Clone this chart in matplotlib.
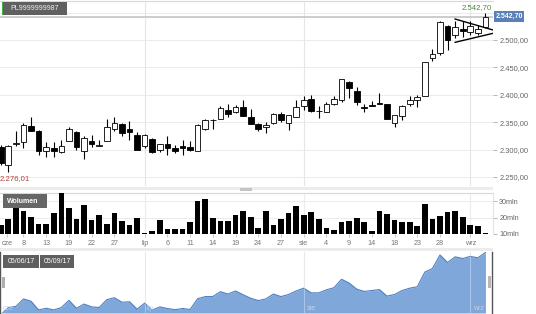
import matplotlib
matplotlib.use('Agg')
import numpy as np
import matplotlib.pyplot as plt
from matplotlib.patches import Rectangle

plt.rcParams['font.family'] = ['Liberation Sans', 'DejaVu Sans']

W, H = 536, 314

# daily OHLC (05/06/17 - 05/09/17)
opens = [2305, 2272, 2311, 2313, 2343, 2334, 2298, 2303, 2295, 2316,
         2332, 2298, 2316, 2307, 2316, 2337, 2347, 2338, 2327, 2307,
         2320, 2300, 2311, 2302, 2307, 2305, 2298, 2337, 2354.5, 2356,
         2372, 2368, 2378, 2360, 2347, 2341, 2348, 2365, 2348, 2360,
         2380, 2392, 2370.5, 2369, 2384, 2390, 2424, 2407, 2377, 2380.5,
         2384.5, 2383, 2349, 2362, 2383, 2390, 2398, 2467, 2476, 2526,
         2509, 2520, 2514, 2513, 2523]
highs = [2308, 2309, 2333, 2348, 2359, 2336, 2313, 2313, 2317, 2342,
         2334, 2324, 2327, 2317, 2355, 2359, 2349, 2353, 2332, 2328,
         2322, 2311, 2325, 2308, 2317, 2316, 2346, 2355, 2355, 2380,
         2384, 2381, 2390, 2374, 2348, 2351, 2367, 2369, 2364, 2390,
         2397, 2400, 2380, 2387, 2398, 2429, 2426, 2415, 2383, 2389,
         2404, 2384, 2364, 2381, 2397, 2400, 2460, 2483, 2534, 2527,
         2535, 2535, 2535, 2527, 2549]
lows = [2272, 2259, 2306, 2303, 2333, 2290, 2286, 2287, 2294, 2315,
        2299, 2282, 2305, 2306, 2315, 2333, 2325, 2317, 2299, 2302,
        2294, 2296, 2290, 2294, 2291, 2297, 2297, 2336, 2337, 2355,
        2360, 2367, 2361, 2346, 2333, 2331, 2347, 2351, 2336, 2359,
        2372, 2369, 2357, 2368, 2381, 2387, 2394, 2381, 2369, 2379,
        2383, 2355, 2342, 2354, 2380, 2378, 2397, 2462, 2473, 2482,
        2503, 2506, 2509, 2510, 2522]
closes = [2276.01, 2307, 2312, 2344, 2334, 2297, 2304, 2297, 2307, 2338,
          2304, 2322, 2310, 2307.5, 2341, 2349, 2330, 2332, 2300, 2326,
          2296, 2310, 2303, 2298, 2303, 2299, 2345, 2354, 2354, 2375,
          2365, 2378, 2362, 2347, 2337, 2344, 2365, 2354, 2363, 2378,
          2390, 2370, 2370, 2383, 2392, 2428, 2412, 2386, 2376, 2380,
          2384, 2356, 2363, 2380, 2390, 2396, 2459, 2474, 2532, 2500,
          2524, 2517, 2526, 2520, 2542.70]
# volume in mln
volume = [15.5, 19.2, 26.8, 23.8, 20.2, 15.8, 16.2, 22.7, 34.9, 26.0,
          19.3, 27.7, 18.7, 21.3, 16.2, 22.7, 18.2, 15.2, 19.6, 10.8,
          12.0, 18.7, 13.0, 13.0, 13.0, 17.4, 30.3, 31.3, 19.8, 18.0,
          18.0, 21.7, 24.3, 20.1, 13.6, 24.3, 15.6, 19.3, 22.7, 27.0,
          21.7, 23.3, 19.3, 13.8, 12.6, 17.6, 18.2, 19.8, 17.2, 11.9,
          24.1, 21.9, 18.7, 17.6, 17.6, 14.6, 28.4, 19.3, 21.1, 23.7,
          23.9, 20.2, 15.6, 14.6, 10.4]

tick_pos = [0.8, 3, 6, 9, 12, 15, 19, 22, 25, 28, 31, 34, 37, 40, 43, 46, 49, 52, 55, 58, 62]
tick_lab = ['cze', '8', '13', '19', '22', '27', 'lip', '6', '11', '14', '19', '24', '27',
            'sie', '4', '9', '14', '18', '23', '28', 'wrz']
month_pos = [19, 40, 62]
nav_lab_pos = [0.3, 19.3, 40.4, 62.3]
nav_lab = ['cze', 'lip', 'sie', 'wrz']

# triangle drawn over the last candles
tri_x = [60.0, 65.0]
tri_upper = [2538.3, 2518.3]
tri_lower = [2495.8, 2512.2]

# 2550 sits behind the last-price box, so its label is left out
price_ticks = [2250, 2300, 2350, 2400, 2450, 2500, 2550]
vol_ticks = [10, 20, 30]


def fmt_pl(v):
    s = '{:,.2f}'.format(v)
    return s.replace(',', ' ').replace('.', ',').replace(' ', '.')


def box(x0, y0, x1, y1):
    return [x0 / W, 1 - y1 / H, (x1 - x0) / W, (y1 - y0) / H]


def rect(x0, y0, x1, y1, fc):
    fig.add_artist(Rectangle((x0 / W, 1 - y1 / H), (x1 - x0) / W, (y1 - y0) / H,
                             transform=fig.transFigure, fc=fc, ec='none'))


fig = plt.figure(figsize=(W / 100, H / 100), dpi=100)
idx = np.arange(len(closes))
o = np.array(opens)
c = np.array(closes)
XL = (-0.1, 65.0)

###############################################################################
# candles
ax = fig.add_axes(box(0, 1, 493, 186))
ax.set_xlim(*XL)
ax.set_ylim(2233.5, 2571.2)
for m in month_pos:
    ax.axvline(m, color='#e6e6e6', lw=0.8, zorder=0)
ax.set_yticks(price_ticks)
ax.set_yticklabels([fmt_pl(t) if t < 2550 else '' for t in price_ticks])
ax.yaxis.tick_right()
ax.tick_params(axis='y', length=3, width=0.6, color='#aaaaaa', pad=1.5,
               labelsize=5.4, labelcolor='#666666')
ax.set_xticks([])
ax.grid(axis='y', color='#e8e8e8', lw=0.6)
ax.set_axisbelow(True)
for s in ['left', 'bottom', 'right']:
    ax.spines[s].set_visible(False)
ax.spines['top'].set_color('#d8d8d8')

ax.axhline(closes[-1], color='#c8c8c8', lw=1.3, zorder=2)

body_bot = np.minimum(o, c)
body_h = np.maximum(np.abs(c - o), 0.6)
faces = ['white' if cc >= oo else 'black' for oo, cc in zip(o, c)]
ax.vlines(idx, lows, highs, color='black', lw=0.8, zorder=3)
ax.bar(idx, body_h, bottom=body_bot, width=0.75, color=faces,
       edgecolor='black', lw=0.6, zorder=4)

ax.plot(tri_x, tri_upper, color='black', lw=1.0, zorder=5)
ax.plot(tri_x, tri_lower, color='black', lw=1.0, zorder=5)

ax.text(64.87, 2558.4, fmt_pl(max(closes)), ha='right', va='center',
        fontsize=5.6, color='#4a8c3c')
ax.text(-0.1, 2248, fmt_pl(closes[0]), ha='left', va='center',
        fontsize=5.6, color='#b0413e')

###############################################################################
# volume
vax = fig.add_axes(box(0, 193, 493, 234))
vax.set_xlim(*XL)
vax.set_ylim(10, 35)
for m in month_pos:
    vax.axvline(m, color='#ececec', lw=0.8, zorder=0)
vax.bar(idx, volume, width=0.75, color='black', zorder=3)
vax.set_yticks(vol_ticks)
vax.set_yticklabels(['%dmln' % t for t in vol_ticks])
vax.yaxis.tick_right()
vax.tick_params(axis='y', length=3, width=0.6, color='#aaaaaa', pad=1.5,
                labelsize=5.2, labelcolor='#666666')
vax.set_xticks(tick_pos)
vax.set_xticklabels(tick_lab)
vax.tick_params(axis='x', length=2, width=0.6, color='#bbbbbb', pad=2,
                labelsize=5.2, labelcolor='#777777')
vax.grid(axis='y', color='#e8e8e8', lw=0.6)
vax.set_axisbelow(True)
vax.spines['left'].set_visible(False)
vax.spines['bottom'].set_visible(False)
vax.spines['top'].set_color('#d8d8d8')
vax.spines['right'].set_color('#e4e4e4')

###############################################################################
# navigator
nax = fig.add_axes(box(0, 252, 492, 313))
nax.set_xlim(XL[0], -0.1 + 492 * 65.1 / 493)
nav_bot = 2283.8
nax.set_ylim(nav_bot, 2544.8)
for m in month_pos:
    nax.axvline(m, color='#dcdcdc', lw=0.8, zorder=0)
nax.fill_between(idx, closes, nav_bot, color='#7fa7d9', lw=0, zorder=1)
nax.plot(idx, closes, color='#4f7fc0', lw=0.8, zorder=2)
for m in month_pos:
    nax.axvline(m, color='white', alpha=0.35, lw=0.8, zorder=3)
for p, lab in zip(nav_lab_pos, nav_lab):
    nax.text(p, 0.08, lab, transform=nax.get_xaxis_transform(), ha='left',
             va='center', fontsize=5, color='#c3d2e6', zorder=4)
nax.set_xticks([])
nax.set_yticks([])
nax.spines['top'].set_visible(False)
nax.spines['bottom'].set_visible(False)
for s in ['left', 'right']:
    nax.spines[s].set_color('#555555')
    nax.spines[s].set_linewidth(1.0)

###############################################################################
# overlays: header, separators, labels
rect(1.5, 1.7, 67, 15, '#606060')
rect(1.5, 1.7, 3, 15, '#47b04b')
fig.text(10 / W, 1 - 8.5 / H, 'PL9999999987', ha='left', va='center',
         fontsize=5, color='#f0f0f0')

rect(494, 11, 524, 22, '#5b80b9')
fig.text(509 / W, 1 - 16.6 / H, fmt_pl(closes[-1]), ha='center', va='center',
         fontsize=5, color='white', fontweight='bold')

rect(0, 187, 493, 190, '#ececec')
rect(240, 187.5, 252, 190.5, '#c4c4c4')
rect(0, 248, 493, 251, '#ececec')

rect(3.3, 194.3, 47.3, 208.3, '#666666')
fig.text(7 / W, 1 - 201.3 / H, 'Wolumen', ha='left', va='center',
         fontsize=5, color='white', fontweight='bold')

rect(3.3, 255, 39, 268, '#5f5f5f')
rect(40, 255, 74, 268, '#5f5f5f')
fig.text(21.2 / W, 1 - 261.5 / H, '05/06/17', ha='center', va='center',
         fontsize=5, color='white')
fig.text(57 / W, 1 - 261.5 / H, '05/09/17', ha='center', va='center',
         fontsize=5, color='white')

rect(2, 277, 5, 288, '#b0b0b0')
rect(487.5, 276, 491, 288, '#b8b8b8')

plt.savefig('out.png', dpi=100)
